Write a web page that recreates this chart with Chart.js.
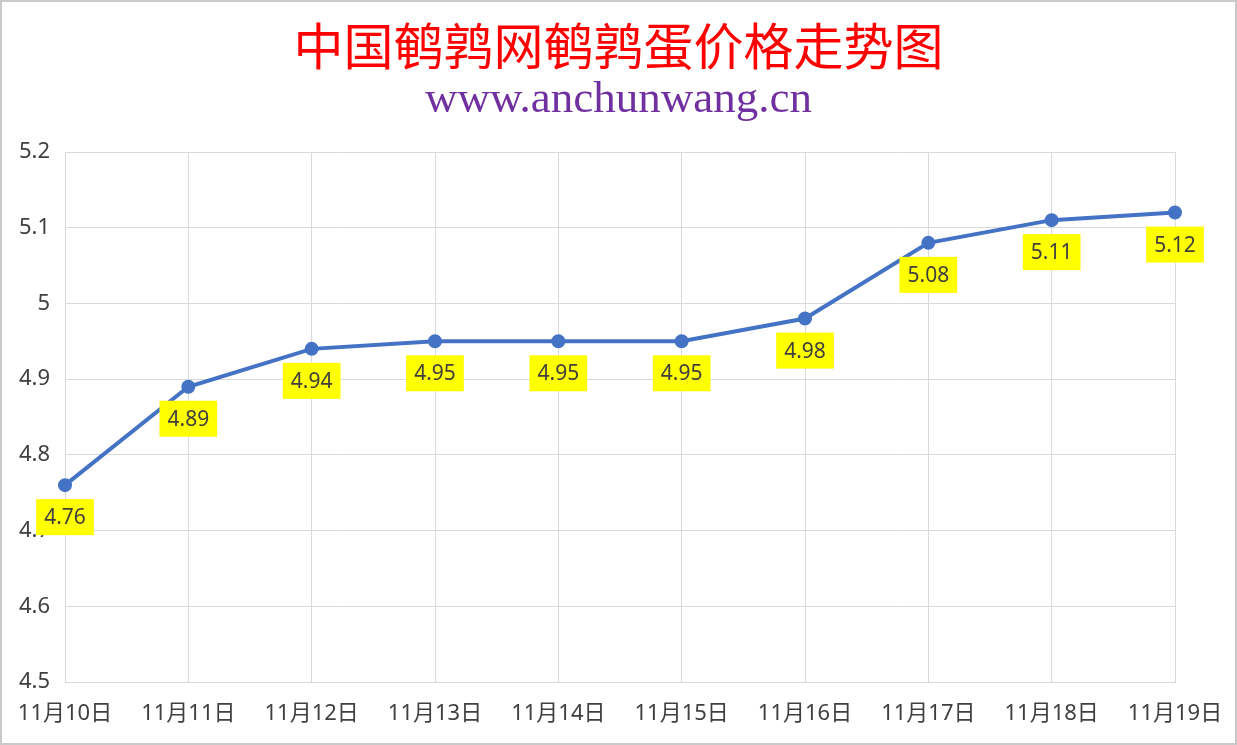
<!DOCTYPE html>
<html>
<head>
<meta charset="utf-8">
<script src="https://cdn.jsdelivr.net/npm/chart.js@4.4.1/dist/chart.umd.min.js"></script>
<style>
  html, body { margin: 0; padding: 0; background: #fff; }
  #wrap { position: relative; width: 1237px; height: 745px; box-sizing: border-box; border: 2px solid #c9c9c9; }
  canvas { display: block; }
</style>
</head>
<body>
<div id="wrap"><canvas id="priceChart"></canvas></div>
<script>
// ===== DATA =====
const dateLabels = ['11月10日','11月11日','11月12日','11月13日','11月14日','11月15日','11月16日','11月17日','11月18日','11月19日'];
const priceValues = [4.76, 4.89, 4.94, 4.95, 4.95, 4.95, 4.98, 5.08, 5.11, 5.12];
const yTicks = [4.5, 4.6, 4.7, 4.8, 4.9, 5, 5.1, 5.2];
const mainTitle = '中国鹌鹑网鹌鹑蛋价格走势图';
const subTitle = 'www.anchunwang.cn';

const TEXT = '#404040';
const GRID = '#d9d9d9';
const LINE = '#4472c4';
const TICK_FONT = { size: 22, family: "'Noto Sans', 'Noto Sans CJK SC', sans-serif" };

// titles centred on the whole canvas (the right padding would shift Chart.js' own title)
const headerText = {
  id: 'headerText',
  beforeDraw(chart) {
    const ctx = chart.ctx;
    const cx = chart.width / 2;
    ctx.save();
    ctx.textAlign = 'center';
    ctx.textBaseline = 'middle';
    ctx.fillStyle = '#ff0000';
    ctx.font = "50px 'Noto Sans CJK SC', serif";
    ctx.fillText(mainTitle, cx, 44);
    ctx.fillStyle = '#7030a0';
    ctx.font = "45px 'Liberation Serif', serif";
    ctx.fillText(subTitle, cx, 98);
    ctx.restore();
  }
};

// yellow value boxes under each point
const valueBoxes = {
  id: 'valueBoxes',
  afterDatasetsDraw(chart) {
    const ctx = chart.ctx;
    const meta = chart.getDatasetMeta(0);
    ctx.save();
    ctx.font = "21px 'Noto Sans', sans-serif";
    ctx.textAlign = 'center';
    ctx.textBaseline = 'middle';
    meta.data.forEach((pt, i) => {
      const txt = priceValues[i].toFixed(2);
      const w = ctx.measureText(txt).width + 16;
      const h = 36;
      const cx = pt.x, cy = pt.y + 32;
      ctx.fillStyle = '#ffff00';
      ctx.fillRect(cx - w / 2, cy - h / 2, w, h);
      ctx.fillStyle = TEXT;
      ctx.fillText(txt, cx, cy + 1);
    });
    ctx.restore();
  }
};

new Chart(document.getElementById('priceChart'), {
  type: 'line',
  data: {
    labels: dateLabels,
    datasets: [{
      data: priceValues,
      borderColor: LINE,
      backgroundColor: LINE,
      borderWidth: 4,
      pointRadius: 5,
      pointBackgroundColor: LINE,
      pointBorderColor: LINE,
      tension: 0,
    }]
  },
  options: {
    responsive: true,
    maintainAspectRatio: false,
    animation: false,
    layout: { padding: { left: 0, right: 60, top: 150, bottom: 0 } },
    plugins: {
      legend: { display: false },
      tooltip: { enabled: false },
      title: { display: false }
    },
    scales: {
      x: {
        offset: false,
        grid: { color: GRID, lineWidth: 1, drawTicks: false },
        border: { color: GRID },
        ticks: { color: TEXT, font: TICK_FONT, padding: 19, maxRotation: 0, autoSkip: false },
        afterFit: s => { s.height = 61; s.paddingLeft = 0; s.paddingRight = 0; }
      },
      y: {
        min: 4.5,
        max: 5.2,
        afterBuildTicks: s => { s.ticks = yTicks.map(v => ({ value: v })); },
        grid: { color: GRID, lineWidth: 1, drawTicks: false },
        border: { display: false },
        ticks: { color: TEXT, font: TICK_FONT, padding: 15, callback: v => String(v) },
        afterFit: s => { s.width = 63; }
      }
    }
  },
  plugins: [headerText, valueBoxes]
});
</script>
</body>
</html>
